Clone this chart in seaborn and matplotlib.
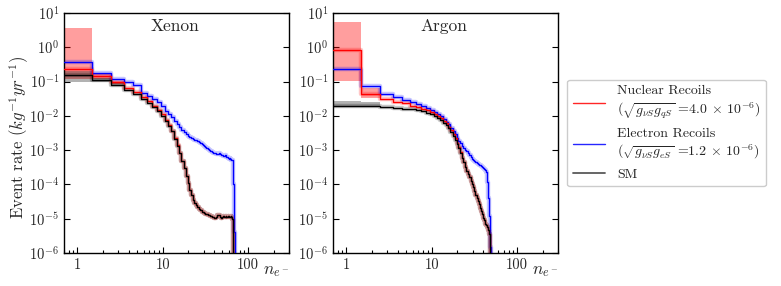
import numpy as np
import matplotlib
matplotlib.use("Agg")
import matplotlib.pyplot as plt
import seaborn as sns
from matplotlib.lines import Line2D
from matplotlib import ticker

# ---------------- data ----------------
xe_n = list(range(1, 73))
xe_sm = [0.16, 0.11, 0.080, 0.058, 0.043, 0.032, 0.024, 0.018, 0.0135, 0.0100,
         0.0072, 0.0052, 0.0035, 0.0021, 0.0013, 8.0e-4, 4.9e-4, 3.0e-4, 1.8e-4, 1.1e-4,
         7.0e-5, 4.8e-5, 3.6e-5, 2.9e-5, 2.45e-5, 2.2e-5, 1.95e-5, 1.75e-5, 1.62e-5, 1.52e-5,
         1.45e-5, 1.4e-5, 1.35e-5, 1.3e-5, 1.25e-5, 1.2e-5, 1.17e-5, 1.13e-5, 1.1e-5, 1.08e-5,
         1.07e-5, 1.1e-5, 1.15e-5, 1.25e-5, 1.3e-5, 1.25e-5, 1.15e-5, 1.1e-5, 1.08e-5, 1.1e-5,
         1.2e-5, 1.15e-5, 1.1e-5, 1.15e-5, 1.22e-5, 1.15e-5, 1.1e-5, 1.12e-5, 1.2e-5, 1.15e-5,
         1.1e-5, 1.12e-5, 1.18e-5, 1.1e-5, 1.0e-5, 3e-6, 0, 0, 0, 0,
         0, 0]
xe_nr = [0.24, 0.15, 0.095, 0.067, 0.049, 0.036, 0.027, 0.020, 0.015, 0.011,
         0.0078, 0.0055, 0.0037, 0.0023, 0.0014] + xe_sm[15:]
xe_er = [0.37, 0.18, 0.12, 0.10, 0.080, 0.047, 0.038, 0.032, 0.025, 0.019,
         0.014, 0.0115, 0.0090, 0.0072, 0.0058, 0.0047, 0.0040, 0.0034, 0.0029, 0.0026,
         0.0024, 0.0022, 0.0021, 0.0020, 0.00195, 0.0018, 0.0017, 0.0016, 0.0015, 0.0014,
         0.00132, 0.00125, 0.00118, 0.00110, 0.00103, 0.00097, 0.00092, 0.00088, 0.00085, 0.00083,
         0.00080, 0.00078, 0.00077, 0.00076, 0.00078, 0.00080, 0.00079, 0.00075, 0.00072, 0.00070,
         0.00068, 0.00066, 0.00067, 0.00070, 0.00068, 0.00064, 0.00062, 0.00060, 0.00058, 0.00057,
         0.00059, 0.00056, 0.00055, 0.00053, 0.00050, 0.00035, 1.0e-4, 2.0e-5, 4e-6, 8e-7,
         0, 0]

ar_n = list(range(1, 53))
ar_sm = [0.0195, 0.0188, 0.0178, 0.0170, 0.0162, 0.0155, 0.0145, 0.0135, 0.0123, 0.0112,
         0.0100, 0.0088, 0.0076, 0.0064, 0.0053, 0.0043, 0.0034, 0.0026, 0.0020, 0.0015,
         0.00112, 0.00083, 0.00061, 0.00045, 0.00033, 2.5e-4, 2.0e-4, 1.6e-4, 1.3e-4, 1.05e-4,
         8.2e-5, 6.4e-5, 5.0e-5, 4.0e-5, 3.2e-5, 2.6e-5, 2.1e-5, 1.7e-5, 1.35e-5, 1.08e-5,
         9.0e-6, 8.0e-6, 7.2e-6, 6.5e-6, 5.8e-6, 4.8e-6, 3.5e-6, 0, 0, 0,
         0, 0]
ar_nr = [0.82, 0.044, 0.030, 0.026, 0.023, 0.020, 0.018, 0.016, 0.0145, 0.0130,
         0.0115, 0.0100, 0.0086, 0.0072, 0.0060, 0.0048, 0.0038, 0.0029, 0.0022, 0.0016,
         0.0012, 0.00088] + ar_sm[22:]
ar_er = [0.235, 0.074, 0.043, 0.036, 0.029, 0.025, 0.022, 0.019, 0.0168, 0.0150,
         0.0132, 0.0115, 0.0100, 0.0082, 0.0068, 0.0056, 0.0045, 0.0036, 0.0029, 0.0023,
         0.0019, 0.0016, 0.00135, 0.00118, 0.00104, 0.00092, 0.00081, 0.00072, 0.00064, 0.00057,
         0.00052, 0.00048, 0.00045, 0.00042, 0.00040, 0.00038, 0.00036, 0.00034, 0.00032, 0.00031,
         0.00029, 0.00028, 0.00026, 0.00023, 0.00012, 4e-5, 1.2e-5, 4e-6, 1.5e-6, 5e-7,
         0, 0]

# uncertainty bands in the lowest bins
xe_band_n = [1, 2, 3]
xe_nr_lo = [0.12, 0.12, 0.085]
xe_nr_hi = [3.7, 0.17, 0.105]
xe_sm_lo = [0.095, 0.095, 0.072]
xe_sm_hi = [0.21, 0.125, 0.088]
ar_band_n = [1, 2]
ar_nr_lo = [0.103, 0.033]
ar_nr_hi = [5.3, 0.063]
ar_sm_lo = [0.0185, 0.0182]
ar_sm_hi = [0.027, 0.026]

panel_titles = ["Xenon", "Argon"]
xtick_vals = [1, 10, 100]
xtick_labels = ["1", "10", "100"]
legend_labels = [
    "Nuclear Recoils\n" + r"($\sqrt{g_{\nu S}g_{qS}}$ =4.0 $\times$ 10$^{-6}$)",
    "Electron Recoils\n" + r"($\sqrt{g_{\nu S}g_{eS}}$ =1.2 $\times$ 10$^{-6}$)",
    "SM",
]

# ---------------- style ----------------
sns.set_style("ticks")
plt.rcParams["font.family"] = ["cmr10", "DejaVu Serif"]
plt.rcParams["mathtext.fontset"] = "cm"
plt.rcParams["axes.formatter.use_mathtext"] = True
plt.rcParams["axes.unicode_minus"] = False

fig = plt.figure(figsize=(7.81, 2.86), dpi=100)
W, H = 781, 286
ax_xe = fig.add_axes([64 / W, 33 / H, 225 / W, 240 / H])
ax_ar = fig.add_axes([333 / W, 33 / H, 225 / W, 240 / H])

panels = [
    (ax_xe, xe_n, xe_sm, xe_nr, xe_er, xe_band_n, xe_nr_lo, xe_nr_hi, xe_sm_lo, xe_sm_hi),
    (ax_ar, ar_n, ar_sm, ar_nr, ar_er, ar_band_n, ar_nr_lo, ar_nr_hi, ar_sm_lo, ar_sm_hi),
]


def step_line(ax, n, vals, color, lw, alpha, z):
    edges = np.append(n - 0.5, n[-1] + 0.5)
    y = np.append(np.asarray(vals, float), vals[-1])
    sns.lineplot(x=edges, y=y, drawstyle="steps-post", color=color, linewidth=lw,
                 alpha=alpha, estimator=None, sort=False, ax=ax, zorder=z)


for i, (ax, n, sm, nr, er, bn, nlo, nhi, slo, shi) in enumerate(panels):
    n = np.asarray(n, float)
    ax.bar(bn, np.asarray(nhi) - np.asarray(nlo), bottom=nlo, width=1.0,
           color="red", alpha=0.38, linewidth=0, zorder=1)
    ax.bar(bn, np.asarray(shi) - np.asarray(slo), bottom=slo, width=1.0,
           color="black", alpha=0.3, linewidth=0, zorder=1)
    for vals, col in [(er, "blue"), (nr, "red"), (sm, "black")]:
        step_line(ax, n, vals, col, 3.2, 0.22, 2)
    for vals, col in [(er, "blue"), (nr, "red"), (sm, "black")]:
        step_line(ax, n, vals, col, 1.0, 1.0, 3)
    ax.set_xscale("log")
    ax.set_yscale("log")
    ax.set_xlim(0.7, 300)
    ax.set_ylim(1e-6, 10)
    ax.set_xticks(xtick_vals)
    ax.set_xticklabels(xtick_labels)
    ax.yaxis.set_major_locator(ticker.LogLocator(base=10, numticks=10))
    ax.yaxis.set_minor_locator(ticker.NullLocator())
    ax.xaxis.set_minor_locator(ticker.LogLocator(base=10, subs=np.arange(2, 10), numticks=12))
    ax.xaxis.set_minor_formatter(ticker.NullFormatter())
    ax.tick_params(which="both", direction="in", top=False, right=True,
                   labelsize=10.5, pad=3.5, width=0.8, color="black")
    ax.tick_params(which="major", length=4)
    ax.tick_params(which="minor", length=2.2)
    for sp in ax.spines.values():
        sp.set_linewidth(1.0)
        sp.set_color("black")
        sp.set_visible(True)
    ax.set_xlabel("")
    ax.set_ylabel("")
    ax.xaxis.label.set_visible(False)
    ax.yaxis.label.set_visible(False)
    ax.xaxis.offsetText.set_visible(False)
    ax.yaxis.offsetText.set_visible(False)
    ax.text(0.493, 0.946, panel_titles[i], transform=ax.transAxes,
            ha="center", va="center", fontsize=12.5)
    ax.text(1.0, -0.075, r"$n_{e^-}$", transform=ax.transAxes,
            ha="right", va="center", fontsize=12.5)

fig.text(19 / W, 1 - 138 / H, r"Event rate $(kg^{-1}yr^{-1})$", rotation=90,
         ha="center", va="center", fontsize=12)

handles = [Line2D([0], [0], color="red", lw=1.0, alpha=0.85),
           Line2D([0], [0], color="blue", lw=1.0, alpha=0.85),
           Line2D([0], [0], color="black", lw=1.3, alpha=0.65)]
fig.legend(handles, legend_labels, loc="center left",
           bbox_to_anchor=(567 / W, 1 - 133 / H), borderaxespad=0,
           fontsize=10, handlelength=2.3, handletextpad=0.9,
           frameon=True, fancybox=True, edgecolor="#cccccc", framealpha=1.0)

fig.savefig("out.png", dpi=100)
